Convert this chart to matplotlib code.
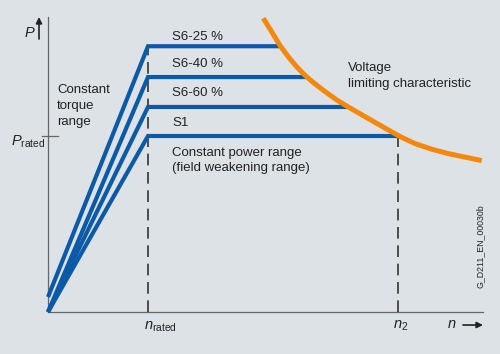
import matplotlib
matplotlib.use("Agg")
import matplotlib.pyplot as plt

plt.rcParams["font.family"] = ["Liberation Sans", "DejaVu Sans"]
plt.rcParams["mathtext.fontset"] = "custom"
plt.rcParams["mathtext.rm"] = "Liberation Sans"
plt.rcParams["mathtext.it"] = "Liberation Sans:italic"

BG = "#dde2e6"
BLUE = "#0b5aa8"
ORANGE = "#f5880a"
TXT = "#222222"

# speed in units of n_rated, power in units of P_rated
n_rated = 1.0
n2 = 3.5
duty_labels = ["S6-25 %", "S6-40 %", "S6-60 %", "S1"]
duty_power = [1.51, 1.335, 1.165, 1.0]
duty_start = [0.085, 0.0, 0.0, 0.0]
duty_end = [2.32, 2.60, 3.00, 3.50]

# voltage limiting characteristic
volt_n = [2.153, 2.237, 2.32, 2.403, 2.487, 2.57, 2.653, 2.737, 2.82, 2.903,
          3.003, 3.087, 3.253, 3.42, 3.52, 3.67, 3.837, 4.003, 4.17, 4.337]
volt_p = [1.669, 1.592, 1.514, 1.450, 1.393, 1.345, 1.304, 1.267, 1.232, 1.199,
          1.165, 1.137, 1.083, 1.029, 0.997, 0.957, 0.925, 0.900, 0.880, 0.860]

fig = plt.figure(figsize=(5.0, 3.54), dpi=100)
fig.patch.set_facecolor(BG)
ax = fig.add_axes([0, 0, 1, 1])
ax.set_facecolor(BG)
ax.set_xlim(-0.48, 4.52)
ax.set_ylim(-0.2386, 1.7727)
ax.axis("off")

# axes
ax.plot([0, 0], [0, 1.676], color="#666666", lw=0.9)
ax.plot([0, 4.35], [0, 0], color="#666666", lw=0.9)
ax.plot([-0.06, 0.1], [1.0, 1.0], color="#666666", lw=0.9)

# dashed guides
ax.plot([n_rated, n_rated], [0, duty_power[0]], color="#333333", lw=1.2,
        dashes=(7, 4), zorder=2)
ax.plot([n2, n2], [0, 1.0], color="#333333", lw=1.2, dashes=(7, 4), zorder=2)

# duty cycle curves
for p, s, e in zip(duty_power, duty_start, duty_end):
    ax.plot([0, n_rated, e], [s, p, p], color=BLUE, lw=3.0,
            solid_joinstyle="miter", solid_capstyle="butt", zorder=3)

ax.plot(volt_n, volt_p, color=ORANGE, lw=3.6, solid_capstyle="butt",
        solid_joinstyle="round", zorder=4)

# arrows
ax.annotate("", xy=(-0.09, 1.676), xytext=(-0.09, 1.551),
            arrowprops=dict(arrowstyle="-|>", color=TXT, lw=1.2,
                            mutation_scale=9, shrinkA=0, shrinkB=0))
ax.annotate("", xy=(4.35, -0.074), xytext=(4.15, -0.074),
            arrowprops=dict(arrowstyle="-|>", color=TXT, lw=1.2,
                            mutation_scale=9, shrinkA=0, shrinkB=0))

fs = 9.5
ax.text(-0.18, 1.585, r"$P$", fontsize=10.5, color=TXT, ha="center", va="center")
ax.text(-0.03, 0.965, r"$P_\mathrm{rated}$", fontsize=10.5, color=TXT,
        ha="right", va="center")
ax.text(1.125, -0.085, r"$n_\mathrm{rated}$", fontsize=10.5, color=TXT,
        ha="center", va="center")
ax.text(3.53, -0.08, r"$n_\mathrm{2}$", fontsize=10.5, color=TXT,
        ha="center", va="center")
ax.text(4.04, -0.07, r"$n$", fontsize=10.5, color=TXT, ha="center", va="center")

ax.text(0.09, 1.295, "Constant\ntorque\nrange", fontsize=fs, color=TXT,
        ha="left", va="top", linespacing=1.45)
label_y = [1.5625, 1.409, 1.244, 1.074]
for lbl, y in zip(duty_labels, label_y):
    ax.text(1.24, y, lbl, fontsize=fs, color=TXT, ha="left", va="center")
ax.text(1.24, 0.94, "Constant power range\n(field weakening range)", fontsize=fs,
        color=TXT, ha="left", va="top", linespacing=1.4)
ax.text(3.0, 1.42, "Voltage\nlimiting characteristic", fontsize=fs, color=TXT,
        ha="left", va="top", linespacing=1.4)
ax.text(4.32, 0.375, "G_D211_EN_00030b", fontsize=6.3, color=TXT,
        rotation=90, ha="center", va="center")

fig.savefig("out.png", dpi=100, facecolor=BG)
